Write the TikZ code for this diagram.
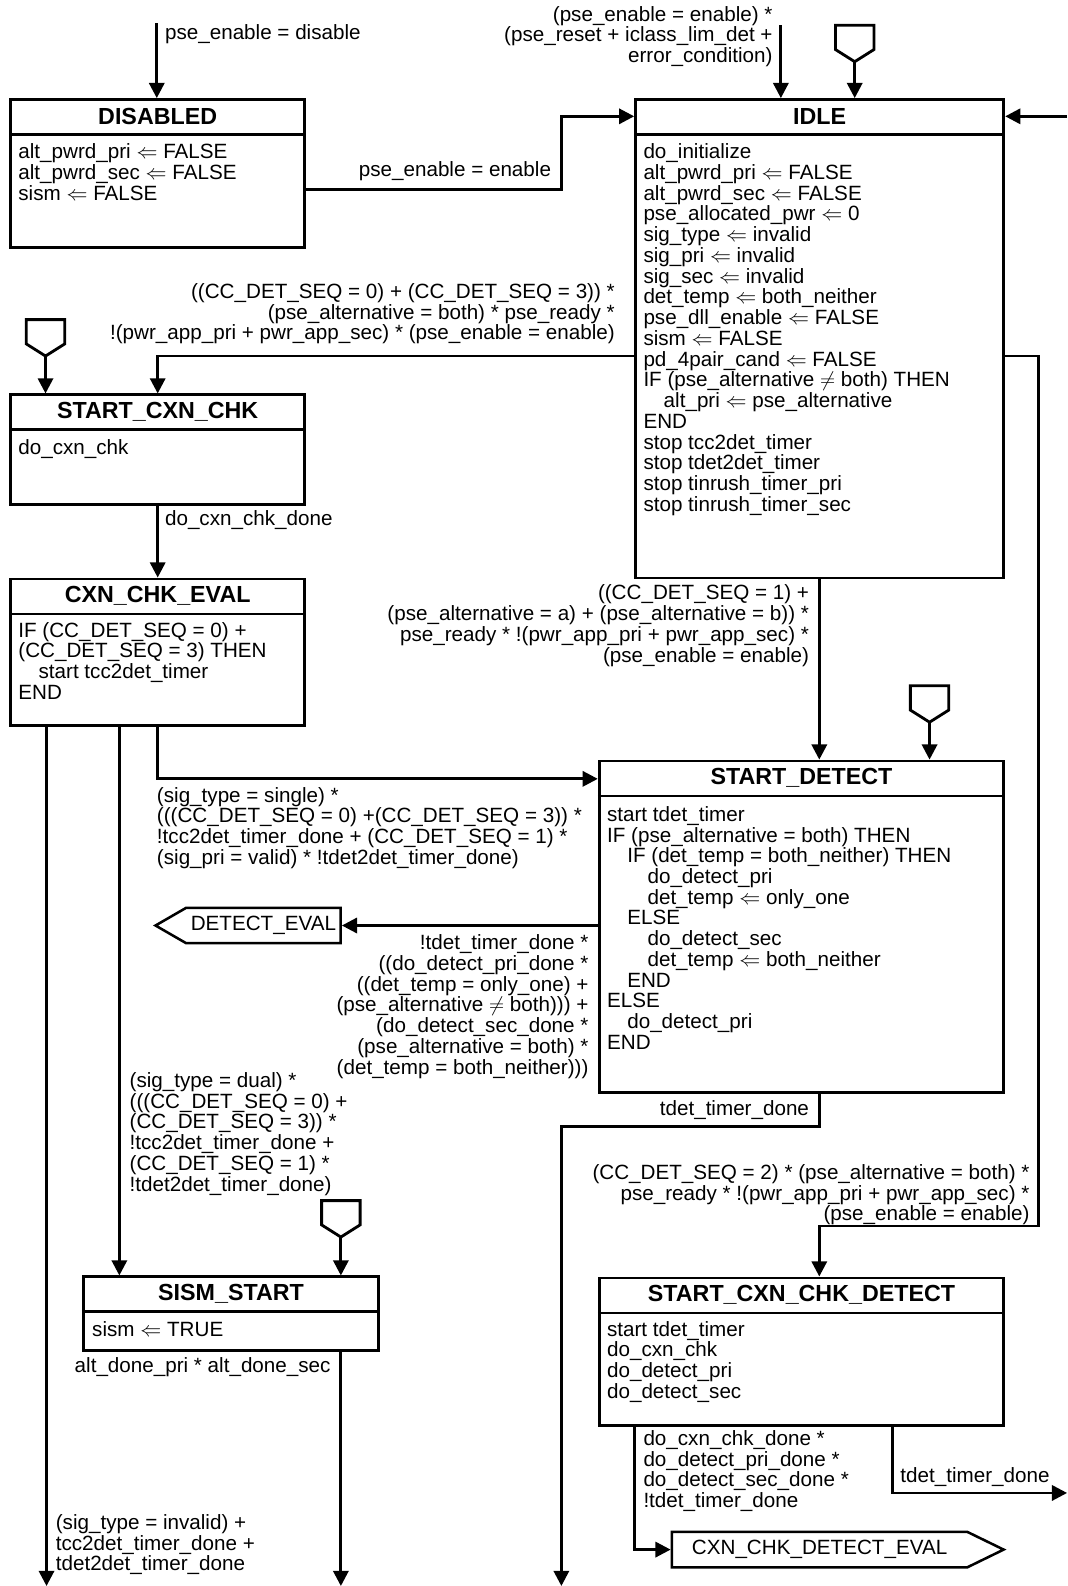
\documentclass[tikz,border=0pt]{standalone}
\usepackage{fontspec}
\setmainfont{Liberation Sans}
\usetikzlibrary{arrows.meta,shapes.symbols}
\newcommand{\setto}{\ensuremath{\Leftarrow}}
\newcommand{\nequal}{\ensuremath{\neq}}

\begin{document}
\begin{tikzpicture}[
  x=1pt, y=1pt,
  every node/.style={font=\fontsize{20.4pt}{20.5pt}\selectfont, inner sep=0pt},
  state/.style={draw, line width=2.8pt, anchor=north west},
  stitle/.style={font=\fontsize{23pt}{24pt}\selectfont\bfseries},
  txt/.style={align=left, anchor=north west},
  rtxt/.style={align=right, anchor=north east},
  conn/.style={line width=2.8pt, -{Triangle[length=15pt,width=15pt]}},
  entry/.style={line width=2.8pt, line join=miter},
  exitsig/.style={draw, line width=2.5pt, signal, minimum height=35pt}
]
  \fill[white] (0,0) rectangle (1055,-1568);
  \useasboundingbox (0,0) rectangle (1055,-1568);

  % states
  \node[state, minimum width=291pt, minimum height=146pt] (disabled) at (9,-97) {};
  \node[state, minimum width=364pt, minimum height=473pt] (idle) at (627,-97) {};
  \node[state, minimum width=291pt, minimum height=108pt] (startcxn) at (9,-389) {};
  \node[state, minimum width=291pt, minimum height=145pt] (cxneval) at (9,-571) {};
  \node[state, minimum width=400pt, minimum height=328pt] (startdet) at (591,-751) {};
  \node[state, minimum width=292pt, minimum height=73pt] (sismstart) at (81,-1261) {};
  \node[state, minimum width=400pt, minimum height=146pt] (cxndet) at (591,-1262) {};

  \foreach \bx/\ttl in {disabled/DISABLED, idle/IDLE, startcxn/START\_CXN\_CHK,
      cxneval/CXN\_CHK\_EVAL, startdet/START\_DETECT, sismstart/SISM\_START,
      cxndet/START\_CXN\_CHK\_DETECT} {
    \draw[line width=2.8pt] ([yshift=-36pt]\bx.north west) -- ([yshift=-36pt]\bx.north east);
    \node[stitle] (\bx-title) at ([yshift=-18pt]\bx.north) {\ttl};
  }

  % state actions
  \node[txt] (disabled-body) at (18,-142) {alt\_pwrd\_pri \setto{} FALSE\\alt\_pwrd\_sec \setto{} FALSE\\sism \setto{} FALSE};
  \node[txt] (idle-body) at (636,-142) {do\_initialize\\alt\_pwrd\_pri \setto{} FALSE\\alt\_pwrd\_sec \setto{} FALSE\\
    pse\_allocated\_pwr \setto{} 0\\sig\_type \setto{} invalid\\sig\_pri \setto{} invalid\\sig\_sec \setto{} invalid\\
    det\_temp \setto{} both\_neither\\pse\_dll\_enable \setto{} FALSE\\sism \setto{} FALSE\\pd\_4pair\_cand \setto{} FALSE\\
    IF (pse\_alternative \nequal{} both) THEN\\\hspace*{20pt}alt\_pri \setto{} pse\_alternative\\END\\
    stop tcc2det\_timer\\stop tdet2det\_timer\\stop tinrush\_timer\_pri\\stop tinrush\_timer\_sec};
  \node[txt] (startcxn-body) at (18,-434) {do\_cxn\_chk};
  \node[txt] (cxneval-body) at (18,-615) {IF (CC\_DET\_SEQ = 0) +\\(CC\_DET\_SEQ = 3) THEN\\\hspace*{20pt}start tcc2det\_timer\\END};
  \node[txt] (startdet-body) at (600,-797) {start tdet\_timer\\IF (pse\_alternative = both) THEN\\
    \hspace*{20pt}IF (det\_temp = both\_neither) THEN\\\hspace*{40pt}do\_detect\_pri\\\hspace*{40pt}det\_temp \setto{} only\_one\\
    \hspace*{20pt}ELSE\\\hspace*{40pt}do\_detect\_sec\\\hspace*{40pt}det\_temp \setto{} both\_neither\\\hspace*{20pt}END\\
    ELSE\\\hspace*{20pt}do\_detect\_pri\\END};
  \node[txt] (sismstart-body) at (91,-1306) {sism \setto{} TRUE};
  \node[txt] (cxndet-body) at (600,-1306) {start tdet\_timer\\do\_cxn\_chk\\do\_detect\_pri\\do\_detect\_sec};

  % entry points
  \foreach \nm/\px/\py in {idle/845/-61, startcxn/45/-352, startdet/919/-714, sismstart/337/-1223} {
    \coordinate (\nm-entry) at (\px,\py);
    \draw[entry] (\nm-entry) -- ++(-19,12) -- ++(0,24) -- ++(38,0) -- ++(0,-24) -- cycle;
    \draw[conn] (\nm-entry) -- (\nm-entry |- \nm.north);
  }

  % exit points
  \node[exitsig, signal to=west, signal pointer angle=60, minimum width=183pt, anchor=east] (deteval) at (338,-915) {DETECT\_EVAL};
  \node[exitsig, signal to=east, signal pointer angle=52, minimum width=328pt, anchor=west] (cdeval) at (663,-1532) {CXN\_CHK\_DETECT\_EVAL};

  % transitions
  \coordinate (in-disabled) at (155,-23);
  \draw[conn] (in-disabled) -- (in-disabled |- disabled.north);
  \node[txt] (l-disable) at (163,-24) {pse\_enable = disable};

  \draw[conn] (disabled.east |- 0,-187) -| (555,-115) -- (idle.west |- 0,-115);
  \node[rtxt] (l-enable) at (545,-160) {pse\_enable = enable};

  \coordinate (in-idle) at (772,-25);
  \draw[conn] (in-idle) -- (in-idle |- idle.north);
  \node[rtxt] (l-reset) at (764,-6) {(pse\_enable = enable) *\\(pse\_reset + iclass\_lim\_det +\\error\_condition)};

  \coordinate (ret-idle) at (1055,-115);
  \draw[conn] (ret-idle) -- (ret-idle -| idle.east);

  \draw[conn] (idle.west |- 0,-352) -| (startcxn.north);
  \node[rtxt] (l-cxn) at (608,-280) {((CC\_DET\_SEQ = 0) + (CC\_DET\_SEQ = 3)) *\\(pse\_alternative = both) * pse\_ready *\\
    !(pwr\_app\_pri + pwr\_app\_sec) * (pse\_enable = enable)};

  \draw[conn] (startcxn.south) -- (cxneval.north);
  \node[txt] (l-cxndone) at (163,-505) {do\_cxn\_chk\_done};

  \draw[conn] (cxneval.south) |- (startdet.west |- 0,-770);
  \node[txt] (l-single) at (155,-778) {(sig\_type = single) *\\(((CC\_DET\_SEQ = 0) +(CC\_DET\_SEQ = 3)) *\\
    !tcc2det\_timer\_done + (CC\_DET\_SEQ = 1) *\\(sig\_pri = valid) * !tdet2det\_timer\_done)};

  \draw[conn] (cxneval.south -| 118,0) -- (sismstart.north -| 118,0);
  \node[txt] (l-dual) at (128,-1060) {(sig\_type = dual) *\\(((CC\_DET\_SEQ = 0) +\\(CC\_DET\_SEQ = 3)) *\\
    !tcc2det\_timer\_done +\\(CC\_DET\_SEQ = 1) *\\!tdet2det\_timer\_done)};

  \coordinate (out-invalid) at (46,-1568);
  \draw[conn] (cxneval.south -| out-invalid) -- (out-invalid);
  \node[txt] (l-invalid) at (55,-1497) {(sig\_type = invalid) +\\tcc2det\_timer\_done +\\tdet2det\_timer\_done};

  \draw[conn] (idle.south -| 810,0) -- (startdet.north -| 810,0);
  \node[rtxt] (l-det) at (800,-578) {((CC\_DET\_SEQ = 1) +\\(pse\_alternative = a) + (pse\_alternative = b)) *\\
    pse\_ready * !(pwr\_app\_pri + pwr\_app\_sec) *\\(pse\_enable = enable)};

  \draw[conn] (startdet.west |- deteval) -- (deteval.east);
  \node[rtxt] (l-deteval) at (582,-924) {!tdet\_timer\_done *\\((do\_detect\_pri\_done *\\((det\_temp = only\_one) +\\
    (pse\_alternative \nequal{} both))) +\\(do\_detect\_sec\_done *\\(pse\_alternative = both) *\\(det\_temp = both\_neither)))};

  \coordinate (out-tdet) at (555,-1568);
  \draw[conn] (startdet.south -| 810,0) |- (555,-1114) -- (out-tdet);
  \node[rtxt] (l-tdet) at (800,-1088) {tdet\_timer\_done};

  \draw[conn] (idle.east |- 0,-352) -| (1027,-1212) -| (cxndet.north -| 810,0);
  \node[rtxt] (l-seq2) at (1018,-1151) {(CC\_DET\_SEQ = 2) * (pse\_alternative = both) *\\
    pse\_ready * !(pwr\_app\_pri + pwr\_app\_sec) *\\(pse\_enable = enable)};

  \coordinate (out-sism) at (337,-1568);
  \draw[conn] (sismstart.south -| out-sism) -- (out-sism);
  \node[rtxt] (l-alt) at (327,-1342) {alt\_done\_pri * alt\_done\_sec};

  \draw[conn] (cxndet.south -| 627,0) |- (cdeval.west);
  \node[txt] (l-cdeval) at (636,-1414) {do\_cxn\_chk\_done *\\do\_detect\_pri\_done *\\do\_detect\_sec\_done *\\!tdet\_timer\_done};

  \coordinate (out-cd) at (1055,-1476);
  \draw[conn] (cxndet.south -| 882,0) |- (out-cd);
  \node[txt] (l-cdtdet) at (890,-1451) {tdet\_timer\_done};
\end{tikzpicture}
\end{document}
